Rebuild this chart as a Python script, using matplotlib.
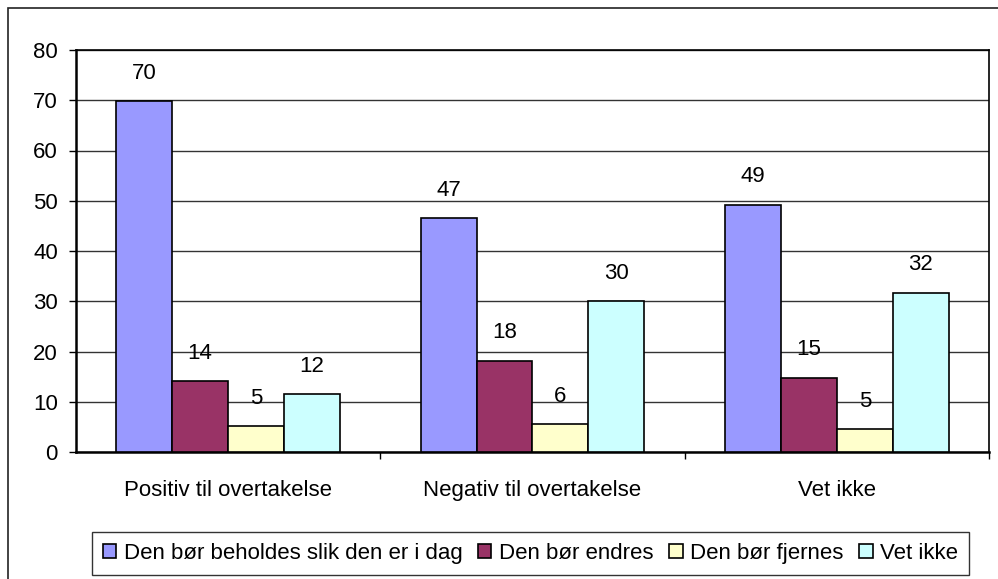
import matplotlib.pyplot as plt
import numpy as np
from matplotlib.patches import Rectangle

plt.rcParams['font.family'] = ['Liberation Sans', 'DejaVu Sans']

categories = ['Positiv til overtakelse', 'Negativ til overtakelse', 'Vet ikke']
series_names = ['Den bør beholdes slik den er i dag', 'Den bør endres',
                'Den bør fjernes', 'Vet ikke']
colors = ['#9999FF', '#993366', '#FFFFCC', '#CCFFFF']

# bar heights, labels as printed on the chart
beholdes = [69.8, 46.6, 49.2]
endres = [14.1, 18.2, 14.8]
fjernes = [5.1, 5.5, 4.6]
vet_ikke = [11.5, 30.0, 31.7]
labels_beholdes = ['70', '47', '49']
labels_endres = ['14', '18', '15']
labels_fjernes = ['5', '6', '5']
labels_vet_ikke = ['12', '30', '32']

values = [beholdes, endres, fjernes, vet_ikke]
labels = [labels_beholdes, labels_endres, labels_fjernes, labels_vet_ikke]

fs = 16

fig = plt.figure(figsize=(9.98, 5.79), dpi=100)
fig.patches.append(Rectangle((8 / 998, -0.05), 1.1, 1 - 8 / 579 + 0.05,
                             transform=fig.transFigure, fill=False,
                             edgecolor='#222222', linewidth=1.2))
ax = fig.add_axes([76 / 998, 1 - 452 / 579, (989 - 76) / 998, (452 - 50) / 579])

x = np.arange(len(categories))
w = 0.184
for i, (vals, labs) in enumerate(zip(values, labels)):
    pos = x + (i - 1.5) * w
    ax.bar(pos, vals, width=w, color=colors[i], edgecolor='black',
           linewidth=1.2, label=series_names[i], zorder=3)
    for px, v, t in zip(pos, vals, labs):
        ax.annotate(t, (px, v), xytext=(0, 20), textcoords='offset points',
                    ha='center', va='center', fontsize=fs)

ax.set_xlim(-0.5, 2.5)
ax.set_ylim(0, 80)
ax.set_yticks(range(0, 81, 10))
ax.yaxis.grid(True, color='#333333', linewidth=1.0, zorder=0)
ax.set_axisbelow(True)

ax.set_xticks(x)
ax.set_xticklabels(categories, fontsize=fs)
ax.set_xticks([0.5, 1.5, 2.5], minor=True)
ax.tick_params(axis='x', which='major', length=0, pad=20)
ax.tick_params(axis='x', which='minor', length=5, width=1, direction='out')
ax.tick_params(axis='y', length=5, width=1, direction='out', labelsize=fs, pad=8)

for s in ax.spines.values():
    s.set_color('black')
    s.set_linewidth(1.2)
ax.spines['bottom'].set_linewidth(1.8)
ax.spines['left'].set_linewidth(1.8)

handles, leg_labels = ax.get_legend_handles_labels()
leg = fig.legend(handles, leg_labels, loc='center',
                 bbox_to_anchor=((91 + 970) / 2 / 998, 1 - 553.5 / 579),
                 ncol=4, fontsize=fs, frameon=True, fancybox=False,
                 edgecolor='black', handlelength=0.6, handleheight=0.6,
                 handletextpad=0.35, columnspacing=0.7, borderpad=0.5)
leg.get_frame().set_linewidth(1.0)

fig.savefig('out.png', dpi=100)
